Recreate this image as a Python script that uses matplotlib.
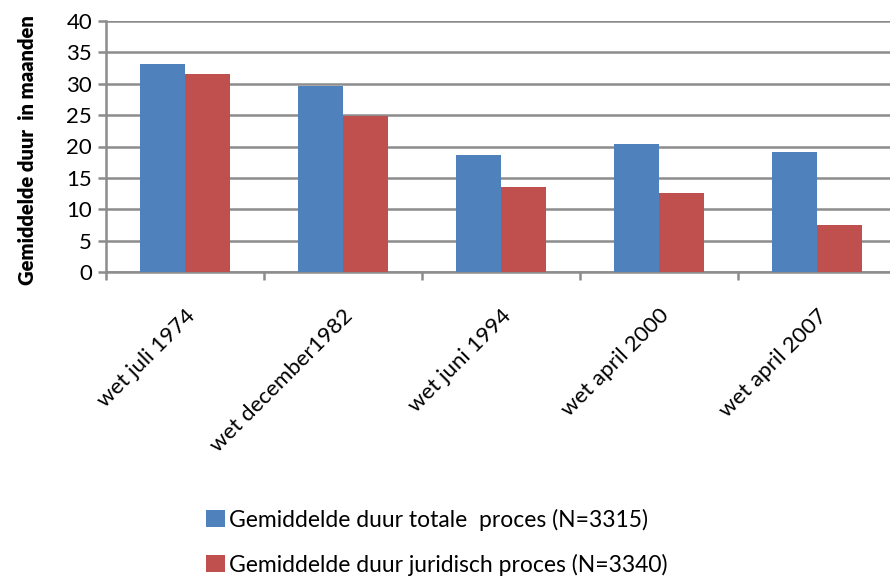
import matplotlib
matplotlib.use("Agg")
import matplotlib.pyplot as plt
import numpy as np
from matplotlib.patches import Patch

categories = ["wet juli 1974", "wet december1982", "wet juni 1994", "wet april 2000", "wet april 2007"]
totale = [33.2, 29.7, 18.6, 20.4, 19.2]
juridisch = [31.6, 24.9, 13.5, 12.6, 7.5]
series_labels = ["Gemiddelde duur totale  proces (N=3315)", "Gemiddelde duur juridisch proces (N=3340)"]
yticks = [0, 5, 10, 15, 20, 25, 30, 35, 40]

plt.rcParams['font.family'] = ['Lato', 'DejaVu Sans']

W, H = 890, 579
fig = plt.figure(figsize=(W/100, H/100), dpi=100)
left, right, top, bottom = 106, 896, 21, 272
ax = fig.add_axes([left/W, 1-bottom/H, (right-left)/W, (bottom-top)/H])

blue = "#4F81BD"
red = "#C0504D"
x = np.arange(len(categories))
w = 0.285
ax.bar(x - w/2, totale, w, color=blue, zorder=3)
ax.bar(x + w/2, juridisch, w, color=red, zorder=3)

ax.set_xlim(-0.5, len(categories) - 0.5)
ax.set_ylim(0, 40)
ax.set_yticks(yticks)
ax.set_yticklabels([str(v) for v in yticks], fontsize=16)
ax.yaxis.grid(True, color="#8C8C8C", linewidth=1.8, zorder=0)
ax.set_axisbelow(True)

ax.set_xticks(x)
ax.set_xticklabels(categories, rotation=45, ha='right', rotation_mode='anchor', fontsize=16)
ax.tick_params(axis='x', length=0, pad=24)
ax.set_xticks(np.arange(len(categories) + 1) - 0.5, minor=True)
ax.tick_params(axis='x', which='minor', length=6, width=1.8, color="#8C8C8C")
ax.tick_params(axis='y', length=6, width=1.8, color="#8C8C8C", pad=4)

for s in ['top', 'right']:
    ax.spines[s].set_visible(False)
for s in ['left', 'bottom']:
    ax.spines[s].set_color("#8C8C8C")
    ax.spines[s].set_linewidth(1.8)

fig.text(28/W, 1-150/H, "Gemiddelde duur  in maanden", rotation=90, ha='center', va='center',
         fontsize=14.5, fontweight='heavy')

handles = [Patch(facecolor=blue), Patch(facecolor=red)]
fig.legend(handles, series_labels, loc='center', bbox_to_anchor=(437/W, 1-542/H), ncol=1,
           frameon=False, fontsize=16.5, handlelength=0.8, handleheight=0.8, handletextpad=0.2,
           labelspacing=1.0)

fig.savefig("out.png", dpi=100)
